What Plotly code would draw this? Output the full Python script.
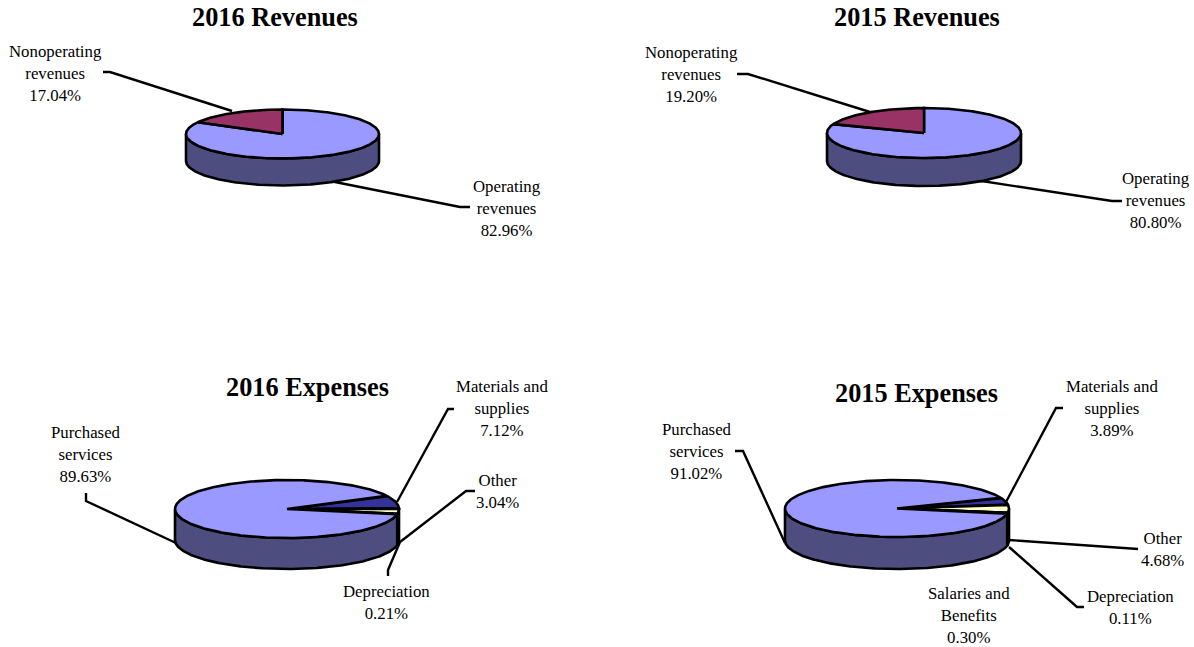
import numpy as np
import plotly.graph_objects as go

# ---- data ----
rev16_labels = ["Operating<br>revenues", "Nonoperating<br>revenues"]
rev16_values = [82.96, 17.04]
rev15_labels = ["Operating<br>revenues", "Nonoperating<br>revenues"]
rev15_values = [80.80, 19.20]
exp16_labels = ["Materials and<br>supplies", "Other", "Depreciation", "Purchased<br>services"]
exp16_values = [7.12, 3.04, 0.21, 89.63]
exp15_labels = ["Materials and<br>supplies", "Other", "Depreciation", "Salaries and<br>Benefits", "Purchased<br>services"]
exp15_values = [3.89, 4.68, 0.11, 0.30, 91.02]

# ---- colours ----
PERI, PERI_D = "#9999FF", "#4D4D80"
MAROON, MAROON_D = "#993366", "#4D1A33"
NAVY, NAVY_D = "#333399", "#1A1A4D"
CREAM, CREAM_D = "#FFFFCC", "#808066"
TEAL, TEAL_D = "#CCFFFF", "#668080"

# ---- panels: layout only ----
panels = [
    dict(title="2016 Revenues", tpos=(275, 17), labels=rev16_labels, values=rev16_values,
         c=(282.5, 134), r=(96.5, 24.5), depth=27, start=-0.0,
         fills=[(PERI, PERI_D), (MAROON, MAROON_D)],
         lpos=[(507, 208), (55, 73)],
         leaders=[[(325, 180), (460, 207), (470, 207)], [(103, 72), (110, 72), (232, 111)]]),
    dict(title="2015 Revenues", tpos=(917, 17), labels=rev15_labels, values=rev15_values,
         c=(924, 133), r=(97, 25), depth=28, start=0.0,
         fills=[(PERI, PERI_D), (MAROON, MAROON_D)],
         lpos=[(1156, 200), (691, 74)],
         leaders=[[(975, 180), (1112, 201), (1122, 201)], [(737, 74), (748, 74), (870, 112)]]),
    dict(title="2016 Expenses", tpos=(307, 387), labels=exp16_labels, values=exp16_values,
         c=(287, 509), r=(112, 29), depth=31, start=63.0,
         fills=[(NAVY, NAVY_D), (CREAM, CREAM_D), (MAROON, MAROON_D), (PERI, PERI_D)],
         lpos=[(502, 408), (497, 491), (386, 602), (86, 454)],
         leaders=[[(454, 409), (448, 409), (397, 502)], [(475, 491), (466, 491), (400, 542)],
                  [(388, 576), (388, 570), (400, 542)], [(86, 493), (86, 501), (176, 543)]]),
    dict(title="2015 Expenses", tpos=(916, 393), labels=exp15_labels, values=exp15_values,
         c=(897, 508.5), r=(112, 28.5), depth=32, start=68.0,
         fills=[(NAVY, NAVY_D), (CREAM, CREAM_D), (MAROON, MAROON_D), (TEAL, TEAL_D), (PERI, PERI_D)],
         lpos=[(1112, 408), (1162, 549), (1130, 607), (969, 615), (697, 451)],
         leaders=[[(1063, 408), (1056, 408), (1006, 502)], [(1138, 549), (1009, 540)],
                  [(1084, 607), (1077, 607), (1009, 547)], None, [(735, 451), (743, 451), (785, 543)]]),
]

FONT = "Liberation Serif, Times New Roman, serif"
fig = go.Figure()


def add_poly(xs, ys, fill):
    fig.add_trace(go.Scatter(x=xs, y=ys, mode="lines", fill="toself", fillcolor=fill,
                             line=dict(color="black", width=2.6), hoverinfo="skip", showlegend=False))


annotations = []
for p in panels:
    cx, cy = p["c"]
    rx, ry = p["r"]
    values = np.array(p["values"], dtype=float)
    edges = p["start"] + np.concatenate([[0], np.cumsum(values)]) / values.sum() * 360

    # leader lines go behind the pie
    for ld in p["leaders"]:
        if ld:
            fig.add_trace(go.Scatter(x=[q[0] for q in ld], y=[q[1] for q in ld], mode="lines",
                                     line=dict(color="black", width=2.4), hoverinfo="skip", showlegend=False))

    def ex(t):
        return cx + rx * np.sin(np.radians(t))

    def ey(t):
        return cy - ry * np.cos(np.radians(t))

    # visible side wall: front half, 90..270 deg (and its +360 copy)
    for i in range(len(values)):
        for off in (0, 360):
            a = max(edges[i], 90 + off)
            b = min(edges[i + 1], 270 + off)
            if b > a:
                t = np.linspace(a, b, max(2, int(b - a) * 2))
                xs = np.concatenate([ex(t), ex(t[::-1]), ex(t[:1])])
                ys = np.concatenate([ey(t), ey(t[::-1]) + p["depth"], ey(t[:1])])
                add_poly(xs, ys, p["fills"][i][1])

    # top wedges
    for i in range(len(values)):
        t = np.linspace(edges[i], edges[i + 1], max(2, int(edges[i + 1] - edges[i]) * 2))
        xs = np.concatenate([[cx], ex(t), [cx]])
        ys = np.concatenate([[cy], ey(t), [cy]])
        add_poly(xs, ys, p["fills"][i][0])

    annotations.append(dict(x=p["tpos"][0], y=p["tpos"][1], text=f"<b>{p['title']}</b>", showarrow=False,
                            font=dict(family=FONT, size=26.3, color="black"), xref="x", yref="y"))
    for lab, v, pos in zip(p["labels"], p["values"], p["lpos"]):
        annotations.append(dict(x=pos[0], y=pos[1], text=f"{lab}<br>{v:.2f}%", showarrow=False, align="center",
                                font=dict(family=FONT, size=16.8, color="black"), xref="x", yref="y"))

fig.update_layout(
    width=1194, height=647, margin=dict(l=0, r=0, t=0, b=0),
    paper_bgcolor="white", plot_bgcolor="white", showlegend=False,
    xaxis=dict(range=[0, 1194], visible=False, fixedrange=True),
    yaxis=dict(range=[647, 0], visible=False, fixedrange=True),
    annotations=annotations,
)
fig.write_html("out.html", config={"displayModeBar": False},
               post_script="document.body.style.margin='0';document.body.style.overflow='hidden';")
